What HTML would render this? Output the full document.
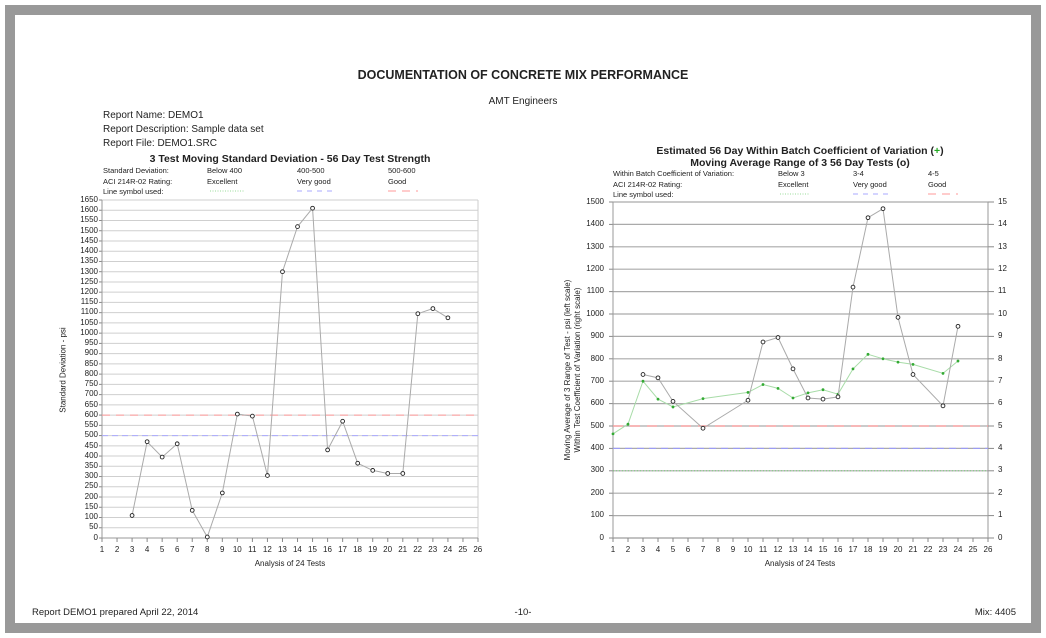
<!DOCTYPE html>
<html><head><meta charset="utf-8"><style>
body{margin:0;background:#fff;font-family:"Liberation Sans",Arial,sans-serif;color:#222}
#pg{position:relative;width:1046px;height:638px;overflow:hidden;background:#fff}
.fr{position:absolute;left:5px;top:5px;width:1016px;height:608px;border:10px solid #999;background:#fff}
.t{position:absolute;white-space:nowrap}
.yl{position:absolute;display:flex;flex-direction:column;font-size:8px;text-align:right}
.yl div{height:var(--h);line-height:var(--h)}
.xl{position:absolute;display:flex;font-size:8px}
.xl div{width:var(--w);text-align:center}
svg{position:absolute;left:0;top:0}
</style></head><body><div id="pg"><div class="fr"></div>
<svg id="s" width="1046" height="638"></svg>
<div class="t" style="left:0;width:1046px;text-align:center;top:68px;font-size:12.5px;font-weight:bold">DOCUMENTATION OF CONCRETE MIX PERFORMANCE</div>
<div class="t" style="left:0;width:1046px;text-align:center;top:96px;font-size:10px">AMT Engineers</div>
<div class="t" style="left:103px;top:109px;font-size:10px;line-height:14px">Report Name: DEMO1<br>Report Description: Sample data set<br>Report File: DEMO1.SRC</div>
<div class="t" style="left:100px;width:380px;text-align:center;top:153px;font-size:10.5px;font-weight:bold">3 Test Moving Standard Deviation - 56 Day Test Strength</div>
<div class="t" style="top:166px;font-size:7.5px;line-height:10.5px;left:103px">Standard Deviation:<br>ACI 214R-02 Rating:<br>Line symbol used:</div>
<div class="t" style="top:166px;font-size:7.5px;line-height:10.5px;left:207px">Below 400<br>Excellent</div>
<div class="t" style="top:166px;font-size:7.5px;line-height:10.5px;left:297px">400-500<br>Very good</div>
<div class="t" style="top:166px;font-size:7.5px;line-height:10.5px;left:388px">500-600<br>Good</div>
<div class="t" style="left:600px;width:400px;text-align:center;top:145px;font-size:10.5px;font-weight:bold;line-height:12px">Estimated 56 Day Within Batch Coefficient of Variation (<span style="color:#2a2">+</span>)<br>Moving Average Range of 3 56 Day Tests (o)</div>
<div class="t" style="top:169px;font-size:7.5px;line-height:10.5px;left:613px">Within Batch Coefficient of Variation:<br>ACI 214R-02 Rating:<br>Line symbol used:</div>
<div class="t" style="top:169px;font-size:7.5px;line-height:10.5px;left:778px">Below 3<br>Excellent</div>
<div class="t" style="top:169px;font-size:7.5px;line-height:10.5px;left:853px">3-4<br>Very good</div>
<div class="t" style="top:169px;font-size:7.5px;line-height:10.5px;left:928px">4-5<br>Good</div>
<div class="yl" style="--h:10.242px;left:60px;width:38px;top:194.9px"><div>1650</div><div>1600</div><div>1550</div><div>1500</div><div>1450</div><div>1400</div><div>1350</div><div>1300</div><div>1250</div><div>1200</div><div>1150</div><div>1100</div><div>1050</div><div>1000</div><div>950</div><div>900</div><div>850</div><div>800</div><div>750</div><div>700</div><div>650</div><div>600</div><div>550</div><div>500</div><div>450</div><div>400</div><div>350</div><div>300</div><div>250</div><div>200</div><div>150</div><div>100</div><div>50</div><div>0</div></div>
<div class="xl" style="--w:15.04px;left:94.5px;top:545px"><div>1</div><div>2</div><div>3</div><div>4</div><div>5</div><div>6</div><div>7</div><div>8</div><div>9</div><div>10</div><div>11</div><div>12</div><div>13</div><div>14</div><div>15</div><div>16</div><div>17</div><div>18</div><div>19</div><div>20</div><div>21</div><div>22</div><div>23</div><div>24</div><div>25</div><div>26</div></div>
<div class="t" style="left:100px;width:380px;text-align:center;top:559px;font-size:8px">Analysis of 24 Tests</div>
<div class="t" style="top:370px;font-size:8px;transform:translate(-50%,-50%) rotate(-90deg);left:63px">Standard Deviation - psi</div>
<div class="yl" style="--h:22.4px;left:570px;width:34px;top:190.8px"><div>1500</div><div>1400</div><div>1300</div><div>1200</div><div>1100</div><div>1000</div><div>900</div><div>800</div><div>700</div><div>600</div><div>500</div><div>400</div><div>300</div><div>200</div><div>100</div><div>0</div></div>
<div class="yl" style="--h:22.4px;left:998px;width:20px;top:190.8px;text-align:left"><div>15</div><div>14</div><div>13</div><div>12</div><div>11</div><div>10</div><div>9</div><div>8</div><div>7</div><div>6</div><div>5</div><div>4</div><div>3</div><div>2</div><div>1</div><div>0</div></div>
<div class="xl" style="--w:15px;left:605.5px;top:545px"><div>1</div><div>2</div><div>3</div><div>4</div><div>5</div><div>6</div><div>7</div><div>8</div><div>9</div><div>10</div><div>11</div><div>12</div><div>13</div><div>14</div><div>15</div><div>16</div><div>17</div><div>18</div><div>19</div><div>20</div><div>21</div><div>22</div><div>23</div><div>24</div><div>25</div><div>26</div></div>
<div class="t" style="left:610px;width:380px;text-align:center;top:559px;font-size:8px">Analysis of 24 Tests</div>
<div class="t" style="left:573px;top:370px;font-size:8px;line-height:10px;text-align:center;transform:translate(-50%,-50%) rotate(-90deg)">Moving Average of 3 Range of Test - psi (left scale)<br>Within Test Coefficient of Variation (right scale)</div>
<div class="t" style="left:32px;top:607px;font-size:9.5px">Report DEMO1 prepared April 22, 2014</div>
<div class="t" style="left:0;width:1046px;text-align:center;top:607px;font-size:9.5px">-10-</div>
<div class="t" style="right:30px;top:607px;font-size:9.5px">Mix: 4405</div>
</div>
<script>
var s=document.getElementById('s'),h='';
function L(x1,y1,x2,y2,c,w,d){h+='<line x1="'+x1+'" y1="'+y1+'" x2="'+x2+'" y2="'+y2+'" stroke="'+c+'" stroke-width="'+(w||1)+'"'+(d?' stroke-dasharray="'+d+'"':'')+'/>';}
var lx=function(n){return 102+(n-1)*15.04},ly=function(v){return 538-v*338/1650};
for(var v=0;v<=1650;v+=50){L(102,ly(v),478,ly(v),'#cfcfcf',1);L(99,ly(v),102,ly(v),'#888');}
L(102,200,102,538,'#999');L(478,200,478,538,'#ccc');L(102,538,478,538,'#999');
for(var n=1;n<=26;n++)L(lx(n),538,lx(n),542,'#888');
L(102,ly(500),478,ly(500),'#aaf',1,'6,4');L(102,ly(600),478,ly(600),'#f99',1,'8,6');
L(210,191,245,191,'#9d9',1,'1,1.5');L(297,191,332,191,'#aaf',1,'5,5');L(388,191,418,191,'#f99',1,'8,6');
var d=[[3,110],[4,470],[5,395],[6,460],[7,135],[8,5],[9,220],[10,605],[11,595],[12,305],[13,1300],[14,1520],[15,1610],[16,430],[17,570],[18,365],[19,330],[20,315],[21,315],[22,1095],[23,1120],[24,1075]];
h+='<polyline fill="none" stroke="#aaa" stroke-width="1" points="'+d.map(function(p){return lx(p[0])+','+ly(p[1])}).join(' ')+'"/>';
d.forEach(function(p){h+='<circle cx="'+lx(p[0])+'" cy="'+ly(p[1])+'" r="1.9" fill="#fff" stroke="#222" stroke-width="0.9"/>';});
var rx=function(n){return 613+(n-1)*15},ry=function(v){return 538-v*336/1500};
for(v=0;v<=1500;v+=100){L(613,ry(v),988,ry(v),'#aaa',1.2);L(609,ry(v),613,ry(v),'#888');L(988,ry(v),994,ry(v),'#888');}
L(613,202,613,538,'#999');L(988,202,988,538,'#999');L(613,538,988,538,'#999');
for(n=1;n<=26;n++)L(rx(n),538,rx(n),542,'#888');
L(613,ry(300),988,ry(300),'#7c7',1,'1,2');L(613,ry(400),988,ry(400),'#99f',1,'7,5');L(613,ry(500),988,ry(500),'#f99',1.2,'10,7');
L(780,194,810,194,'#9d9',1,'1,1.5');L(853,194,888,194,'#aaf',1,'5,5');L(928,194,958,194,'#f99',1,'8,6');
var g=[[1,4.65],[2,5.08],[3,7.0],[4,6.2],[5,5.85],[7,6.22],[10,6.5],[11,6.85],[12,6.68],[13,6.25],[14,6.48],[15,6.62],[16,6.42],[17,7.55],[18,8.2],[19,8.0],[20,7.85],[21,7.75],[23,7.35],[24,7.9]];
h+='<polyline fill="none" stroke="#a8dca8" stroke-width="1" points="'+g.map(function(p){return rx(p[0])+','+ry(p[1]*100)}).join(' ')+'"/>';
g.forEach(function(p){h+='<circle cx="'+rx(p[0])+'" cy="'+ry(p[1]*100)+'" r="1.4" fill="#3a3"/>';});
var c=[[3,730],[4,715],[5,610],[7,490],[10,615],[11,875],[12,895],[13,755],[14,625],[15,620],[16,630],[17,1120],[18,1430],[19,1470],[20,985],[21,730],[23,590],[24,945]];
h+='<polyline fill="none" stroke="#aaa" stroke-width="1" points="'+c.map(function(p){return rx(p[0])+','+ry(p[1])}).join(' ')+'"/>';
c.forEach(function(p){h+='<circle cx="'+rx(p[0])+'" cy="'+ry(p[1])+'" r="1.9" fill="#fff" stroke="#222" stroke-width="0.9"/>';});
s.innerHTML=h;
</script></body></html>
